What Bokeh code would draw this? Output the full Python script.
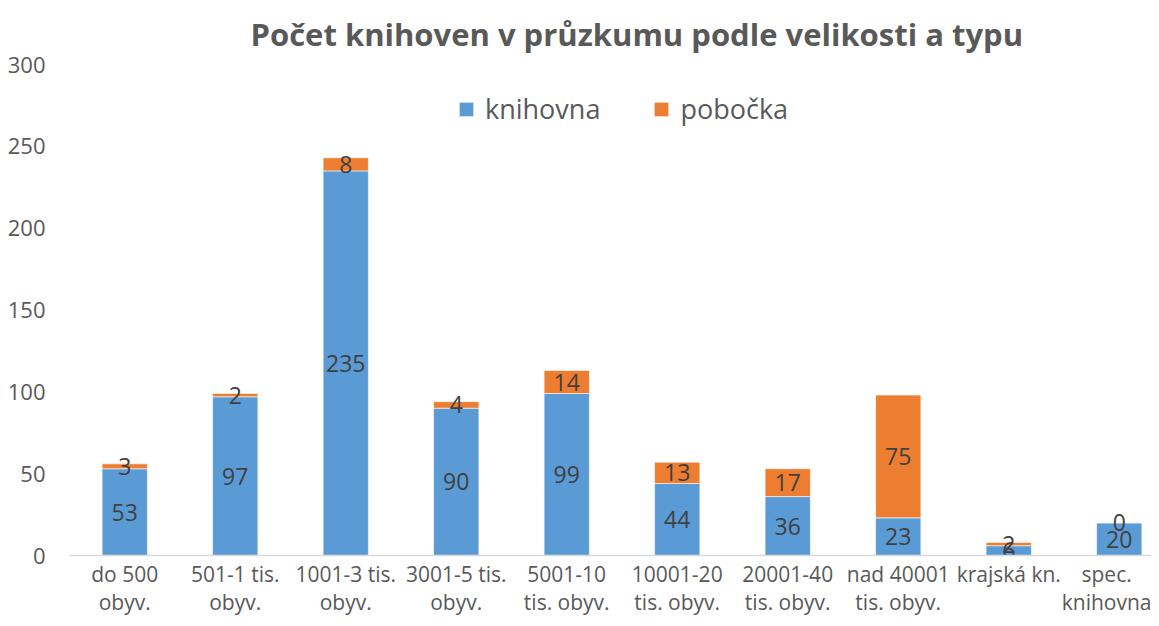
from bokeh.plotting import figure
from bokeh.models import (Range1d, FixedTicker, Legend, LegendItem, ColumnDataSource, Title)
from bokeh.core.properties import value
from bokeh.embed import file_html
from bokeh.resources import INLINE

categories = ["do 500\nobyv.", "501-1 tis.\nobyv.", "1001-3 tis.\nobyv.", "3001-5 tis.\nobyv.",
              "5001-10\ntis. obyv.", "10001-20\ntis. obyv.", "20001-40\ntis. obyv.",
              "nad 40001\ntis. obyv.", "krajská kn.", "spec.\nknihovna"]
knihovna = [53, 97, 235, 90, 99, 44, 36, 23, 6, 20]
pobocka = [3, 2, 8, 4, 14, 13, 17, 75, 2, 0]
y_ticks = [0, 50, 100, 150, 200, 250, 300]

BLUE = "#5B9BD5"
ORANGE = "#ED7D31"
FONT = "Open Sans"

xs = list(range(len(categories)))
src = ColumnDataSource(dict(x=xs, knihovna=knihovna, pobocka=pobocka))

p = figure(width=1151, height=618, output_backend="svg", toolbar_location=None,
           x_range=Range1d(-0.5, 9.292), y_range=Range1d(0, 300),
           min_border_left=69, min_border_right=0, min_border_top=63, min_border_bottom=0)

p.title = Title(text="Počet knihoven v průzkumu podle velikosti a typu", align="left", offset=181,
                standoff=20,
                text_font=FONT, text_font_size="31px", text_font_style="bold", text_color="#595959")

rs = p.vbar_stack(["knihovna", "pobocka"], x="x", width=0.41, color=[BLUE, ORANGE],
                  line_color="white", line_width=1, line_alpha=0.6, source=src)

# data labels centered in segments
lab_x = xs + xs
lab_y = [k / 2 for k in knihovna] + [k + q / 2 for k, q in zip(knihovna, pobocka)]
lab_t = [str(v) for v in knihovna] + [str(v) for v in pobocka]
p.text(x=lab_x, y=lab_y, text=lab_t, text_align="center", text_baseline="middle",
       text_font=value(FONT), text_font_size="23px", text_color="#404040")

legend = Legend(items=[LegendItem(label="knihovna", renderers=[rs[0]]),
                       LegendItem(label="pobočka", renderers=[rs[1]])],
                orientation="horizontal", location=(388, 428),
                label_text_font=FONT, label_text_font_size="27px", label_text_color="#595959",
                glyph_width=18, glyph_height=18, label_standoff=10, spacing=52,
                padding=0, margin=0, border_line_color=None, background_fill_alpha=0)
p.add_layout(legend)

p.xaxis.ticker = FixedTicker(ticks=xs)
p.xaxis.major_label_overrides = {i: c for i, c in enumerate(categories)}
p.xaxis.axis_line_color = "#D9D9D9"
p.xaxis.axis_line_width = 1.5
p.xaxis.major_tick_line_color = None
p.xaxis.major_tick_out = 0
p.xaxis.major_tick_in = 0
p.xaxis.minor_tick_line_color = None
p.xaxis.major_label_standoff = 4
p.xaxis.major_label_text_font = FONT
p.xaxis.major_label_text_font_size = "21px"
p.xaxis.major_label_text_line_height = 1.0
p.xaxis.major_label_text_color = "#595959"

p.yaxis.ticker = FixedTicker(ticks=y_ticks)
p.yaxis.axis_line_color = None
p.yaxis.major_tick_line_color = None
p.yaxis.major_tick_out = 0
p.yaxis.major_tick_in = 0
p.yaxis.minor_tick_line_color = None
p.yaxis.major_label_standoff = 24
p.yaxis.major_label_text_font = FONT
p.yaxis.major_label_text_font_size = "22px"
p.yaxis.major_label_text_color = "#595959"

p.xgrid.grid_line_color = None
p.ygrid.grid_line_color = None
p.outline_line_color = None

open("out.html", "w").write(file_html(p, INLINE))
